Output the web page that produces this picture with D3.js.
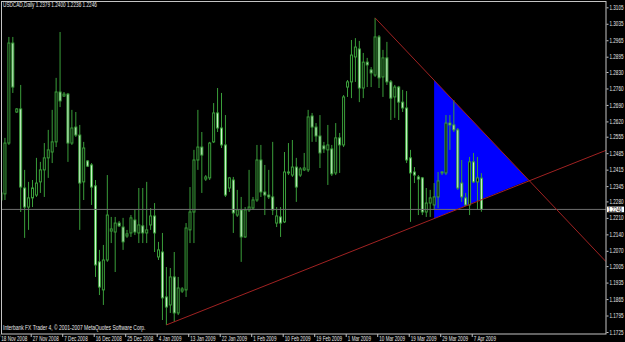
<!DOCTYPE html>
<html>
<head>
<meta charset="utf-8">
<script src="https://cdn.jsdelivr.net/npm/d3@7"></script>
<style>
    html, body { margin: 0; padding: 0; background: #000; overflow: hidden; }
    svg { display: block; }
    text { font-family: 'Liberation Sans', Arial, sans-serif; font-size: 6.5px; fill: #e6e6e6; }
</style>
</head>
<body>
<svg id="chart" width="625" height="342"></svg>
<script>
const symbol = 'USDCAD,Daily';
const copyright = 'Interbank FX Trader 4, \u00a9 2001-2007 MetaQuotes Software Corp.';
const firstDay = '2008-11-18';

const open = [
    1.2286, 1.2312, 1.2528, 1.2953, 1.2660, 1.2673, 1.2337, 1.2256, 1.2295, 1.2307,
    1.2363, 1.2414, 1.2465, 1.2490, 1.2533, 1.2745, 1.2728, 1.2736, 1.2528, 1.2596,
    1.2562, 1.2363, 1.2452, 1.2435, 1.2346, 1.2023, 1.1904, 1.2031, 1.2154, 1.2150,
    1.2188, 1.2171, 1.2133, 1.2146, 1.2201, 1.2146, 1.2176, 1.2146, 1.2180, 1.2218,
    1.2044, 1.2065, 1.1874, 1.1840, 1.1959, 1.1806, 1.1899, 1.1904, 1.2159, 1.2235,
    1.2456, 1.2511, 1.2375, 1.2380, 1.2533, 1.2656, 1.2592, 1.2520, 1.2337, 1.2371,
    1.2222, 1.2244, 1.2129, 1.2244, 1.2252, 1.2286, 1.2456, 1.2320, 1.2307, 1.2299,
    1.2188, 1.2214, 1.2193, 1.2405, 1.2392, 1.2426, 1.2392, 1.2414, 1.2414, 1.2643,
    1.2596, 1.2558, 1.2516, 1.2499, 1.2503, 1.2401, 1.2550, 1.2520, 1.2766, 1.2788,
    1.2894, 1.2928, 1.2762, 1.2872, 1.2839, 1.2817, 1.2979, 1.2809, 1.2890, 1.2788,
    1.2724, 1.2766, 1.2702, 1.2677, 1.2465, 1.2405, 1.2384, 1.2380, 1.2235, 1.2273,
    1.2265, 1.2299, 1.2405, 1.2401, 1.2613, 1.2605, 1.2584, 1.2358, 1.2295, 1.2265,
    1.2448, 1.2363, 1.2379
];
const high = [
    1.2384, 1.2550, 1.2979, 1.2979, 1.2677, 1.2775, 1.2414, 1.2363, 1.2371, 1.2465,
    1.2448, 1.2528, 1.2584, 1.2669, 1.2805, 1.3000, 1.2745, 1.2741, 1.2669, 1.2660,
    1.2605, 1.2533, 1.2456, 1.2443, 1.2371, 1.2074, 1.2095, 1.2392, 1.2214, 1.2214,
    1.2197, 1.2210, 1.2159, 1.2222, 1.2244, 1.2337, 1.2337, 1.2363, 1.2252, 1.2273,
    1.2108, 1.2146, 1.2001, 1.1997, 1.2065, 1.1959, 1.1916, 1.2188, 1.2341, 1.2499,
    1.2669, 1.2575, 1.2392, 1.2533, 1.2698, 1.2762, 1.2741, 1.2647, 1.2384, 1.2384,
    1.2329, 1.2299, 1.2256, 1.2414, 1.2299, 1.2520, 1.2520, 1.2435, 1.2414, 1.2533,
    1.2256, 1.2256, 1.2490, 1.2528, 1.2541, 1.2465, 1.2426, 1.2486, 1.2669, 1.2656,
    1.2613, 1.2647, 1.2533, 1.2605, 1.2520, 1.2613, 1.2571, 1.2732, 1.2796, 1.2966,
    1.2974, 1.2962, 1.2911, 1.2890, 1.2851, 1.3060, 1.2987, 1.2924, 1.2958, 1.2796,
    1.2775, 1.2771, 1.2754, 1.2749, 1.2499, 1.2426, 1.2392, 1.2384, 1.2337, 1.2329,
    1.2358, 1.2405, 1.2409, 1.2647, 1.2647, 1.2711, 1.2592, 1.2456, 1.2316, 1.2469,
    1.2486, 1.2469, 1.2400
];
const low = [
    1.2171, 1.2286, 1.2520, 1.2741, 1.2656, 1.2235, 1.2125, 1.2159, 1.2256, 1.2299,
    1.2316, 1.2299, 1.2380, 1.2443, 1.2511, 1.2681, 1.2724, 1.2448, 1.2520, 1.2554,
    1.2159, 1.2286, 1.2426, 1.2265, 1.1959, 1.1882, 1.1840, 1.2023, 1.2103, 1.1980,
    1.2171, 1.2074, 1.2125, 1.2129, 1.2137, 1.2103, 1.2103, 1.2103, 1.2159, 1.2065,
    1.2031, 1.1776, 1.1755, 1.1806, 1.1768, 1.1797, 1.1891, 1.1874, 1.2103, 1.2103,
    1.2414, 1.2316, 1.2367, 1.2371, 1.2528, 1.2575, 1.2507, 1.2299, 1.2320, 1.2146,
    1.2214, 1.2023, 1.2125, 1.2235, 1.2244, 1.2278, 1.2299, 1.2222, 1.2290, 1.2222,
    1.2171, 1.2129, 1.2188, 1.2392, 1.2384, 1.2278, 1.2384, 1.2409, 1.2405, 1.2533,
    1.2533, 1.2422, 1.2486, 1.2350, 1.2388, 1.2392, 1.2401, 1.2511, 1.2724, 1.2719,
    1.2788, 1.2702, 1.2719, 1.2766, 1.2766, 1.2809, 1.2762, 1.2724, 1.2775, 1.2626,
    1.2635, 1.2626, 1.2660, 1.2443, 1.2193, 1.2358, 1.2222, 1.2222, 1.2214, 1.2214,
    1.2244, 1.2252, 1.2392, 1.2392, 1.2499, 1.2575, 1.2329, 1.2278, 1.2261, 1.2222,
    1.2358, 1.2244, 1.2236
];
const close = [
    1.2316, 1.2528, 1.2953, 1.2766, 1.2673, 1.2341, 1.2256, 1.2295, 1.2337, 1.2358,
    1.2414, 1.2465, 1.2499, 1.2533, 1.2745, 1.2707, 1.2736, 1.2528, 1.2592, 1.2562,
    1.2358, 1.2507, 1.2430, 1.2341, 1.2010, 1.1916, 1.2031, 1.2222, 1.2163, 1.2188,
    1.2176, 1.2108, 1.2142, 1.2210, 1.2150, 1.2180, 1.2146, 1.2159, 1.2218, 1.2146,
    1.2074, 1.1870, 1.1831, 1.1959, 1.1806, 1.1912, 1.1908, 1.2167, 1.2235, 1.2456,
    1.2511, 1.2477, 1.2384, 1.2528, 1.2656, 1.2592, 1.2520, 1.2307, 1.2380, 1.2231,
    1.2244, 1.2129, 1.2244, 1.2256, 1.2286, 1.2456, 1.2320, 1.2307, 1.2299, 1.2244,
    1.2218, 1.2188, 1.2405, 1.2401, 1.2426, 1.2341, 1.2418, 1.2422, 1.2639, 1.2596,
    1.2558, 1.2486, 1.2503, 1.2520, 1.2397, 1.2550, 1.2520, 1.2724, 1.2788, 1.2902,
    1.2936, 1.2762, 1.2872, 1.2860, 1.2826, 1.2979, 1.2805, 1.2890, 1.2788, 1.2719,
    1.2766, 1.2702, 1.2677, 1.2456, 1.2401, 1.2392, 1.2375, 1.2235, 1.2273, 1.2295,
    1.2299, 1.2367, 1.2401, 1.2613, 1.2605, 1.2584, 1.2337, 1.2299, 1.2265, 1.2448,
    1.2363, 1.2380, 1.2246
];

const priceTicks = [
    1.3105, 1.3035, 1.2965, 1.2895, 1.2830, 1.2760, 1.2690, 1.2620, 1.2555, 1.2485, 1.2415,
    1.2345, 1.2280, 1.2210, 1.2140, 1.2070, 1.2005, 1.1935, 1.1865, 1.1795, 1.1725
];
const dateTicks = [
    '18 Nov 2008', '27 Nov 2008', '7 Dec 2008', '16 Dec 2008', '25 Dec 2008', '4 Jan 2009',
    '13 Jan 2009', '22 Jan 2009', '1 Feb 2009', '10 Feb 2009', '19 Feb 2009', '1 Mar 2009',
    '10 Mar 2009', '19 Mar 2009', '29 Mar 2009', '7 Apr 2009'
];

// drawn objects, as [bar index, price]
const resistanceLine = [[95, 1.3060], [110, 1.2795]];
const supportLine = [[42, 1.1755], [110, 1.2207]];
const triangle = [[110, 1.2795], [110, 1.2207], [134, 1.2370]];

// daily bars, Saturdays skipped
const fmtDate = d3.timeFormat('%-d %b %Y');
let dates = [];
let day = d3.timeParse('%Y-%m-%d')(firstDay);
while (dates.length < close.length) {
    if (day.getDay() !== 6) {
        dates.push(day);
    }
    day = d3.timeDay.offset(day, 1);
}

const plot = { left: 1, top: 1, right: 606, bottom: 334 };
const last = close.length - 1;
const fmtPrice = d3.format('.4f');

const x = d3.scaleLinear()
    .domain([0, last])
    .range([1, 481.4]);

const y = d3.scaleLinear()
    .domain([1.1725, 1.3105])
    .range([332, 7.3]);

const svg = d3.select('#chart');

svg.append('rect')
    .attr('width', 625)
    .attr('height', 342)
    .attr('fill', '#000');

svg.append('clipPath')
    .attr('id', 'plot-clip')
    .append('rect')
    .attr('x', plot.left)
    .attr('y', plot.top)
    .attr('width', plot.right - plot.left)
    .attr('height', plot.bottom - plot.top);

let area = svg.append('g')
    .attr('clip-path', 'url(#plot-clip)');

// triangle sits behind the bars
area.append('path')
    .datum(triangle)
    .attr('d', d3.line().x(d => x(d[0])).y(d => y(d[1])).curve(d3.curveLinearClosed))
    .attr('fill', '#0000ff');

let bars = area.selectAll('.bar')
    .data(close.map((c, i) => ({ i, o: open[i], h: high[i], l: low[i], c })))
    .enter()
    .append('g')
    .attr('class', 'bar');

bars.append('line')
    .attr('x1', d => x(d.i))
    .attr('x2', d => x(d.i))
    .attr('y1', d => y(d.h))
    .attr('y2', d => y(d.l))
    .attr('stroke', '#3a9e3a')
    .attr('stroke-width', 1);

bars.append('rect')
    .attr('x', d => x(d.i) - 1)
    .attr('width', 2)
    .attr('y', d => y(Math.max(d.o, d.c)))
    .attr('height', d => Math.max(0.6, Math.abs(y(d.o) - y(d.c))))
    .attr('fill', d => d.c < d.o ? '#d4f7d4' : '#000')
    .attr('stroke', '#3a9e3a')
    .attr('stroke-width', 1);

// bid line
area.append('line')
    .attr('x1', plot.left)
    .attr('x2', plot.right)
    .attr('y1', y(close[last]))
    .attr('y2', y(close[last]))
    .attr('stroke', '#707070')
    .attr('stroke-width', 1);

// trend lines run on to the right edge
const rightIndex = x.invert(plot.right);

function ray(pts) {
    let [a, b] = pts;
    let slope = (b[1] - a[1]) / (b[0] - a[0]);
    return [a, [rightIndex, a[1] + slope * (rightIndex - a[0])]];
}

area.selectAll('.trend')
    .data([resistanceLine, supportLine].map(ray))
    .enter()
    .append('line')
    .attr('class', 'trend')
    .attr('x1', d => x(d[0][0]))
    .attr('y1', d => y(d[0][1]))
    .attr('x2', d => x(d[1][0]))
    .attr('y2', d => y(d[1][1]))
    .attr('stroke', '#a02222')
    .attr('stroke-width', 1);

// frame
svg.append('rect')
    .attr('x', plot.left + 0.5)
    .attr('y', plot.top + 0.5)
    .attr('width', plot.right - plot.left - 0.5)
    .attr('height', plot.bottom - plot.top - 0.5)
    .attr('fill', 'none')
    .attr('stroke', '#c4c4c4')
    .attr('stroke-width', 1);

// price scale
let yAxis = svg.append('g')
    .attr('transform', `translate(${plot.right + 0.5},0)`)
    .call(d3.axisRight(y)
        .tickValues(priceTicks)
        .tickSize(2)
        .tickPadding(1)
        .tickFormat(fmtPrice));

yAxis.select('.domain').remove();
yAxis.selectAll('line').attr('stroke', '#c4c4c4');
yAxis.selectAll('text').attr('fill', '#e6e6e6').attr('font-family', null).attr('font-size', null);

svg.append('rect')
    .attr('x', plot.right + 1)
    .attr('y', y(close[last]) - 2.8)
    .attr('width', 17)
    .attr('height', 5.6)
    .attr('fill', '#fff');

let bidLabel = svg.append('text')
    .attr('x', plot.right + 2)
    .attr('y', y(close[last]))
    .attr('dy', '0.34em')
    .style('fill', '#000')
    .text(fmtPrice(close[last]));

// time scale
let tickIndex = dateTicks.map(t => dates.findIndex(d => fmtDate(d) === t));

let xAxis = svg.append('g')
    .attr('transform', `translate(-1.8,${plot.bottom})`)
    .call(d3.axisBottom(x)
        .tickValues(tickIndex)
        .tickSize(3)
        .tickFormat((d, i) => dateTicks[i]));

xAxis.select('.domain').remove();
xAxis.selectAll('line').attr('stroke', '#c4c4c4');
xAxis.selectAll('text')
    .attr('fill', '#e6e6e6')
    .attr('font-family', null)
    .attr('font-size', null)
    .attr('text-anchor', 'start')
    .attr('x', 1.6)
    .attr('y', 7)
    .attr('dy', 0);

// captions
let title = svg.append('text')
    .attr('x', 3)
    .attr('y', 7.5)
    .text(`${symbol}  ${fmtPrice(open[last])} ${fmtPrice(high[last])} ${fmtPrice(low[last])} ${fmtPrice(close[last])}`);

let credit = svg.append('text')
    .attr('x', 3)
    .attr('y', 330.5)
    .text(copyright);

// the terminal font is narrow: squeeze each group of labels sideways to the widths seen
function squeeze(sel, sample, width) {
    let probe = svg.append('text').text(sample);
    let k = width / probe.node().getComputedTextLength();
    probe.remove();
    sel.each(function () {
        let t = d3.select(this);
        let x0 = +t.attr('x') || 0;
        t.attr('x', 0)
            .attr('transform', `translate(${x0},0) scale(${k},1)`);
    });
}

squeeze(yAxis.selectAll('text'), '1.3105', 14);
squeeze(bidLabel, '1.2246', 14);
squeeze(xAxis.selectAll('text'), '27 Nov 2008', 26);
squeeze(title, title.text(), 94);
squeeze(credit, copyright, 143);
</script>
</body>
</html>
